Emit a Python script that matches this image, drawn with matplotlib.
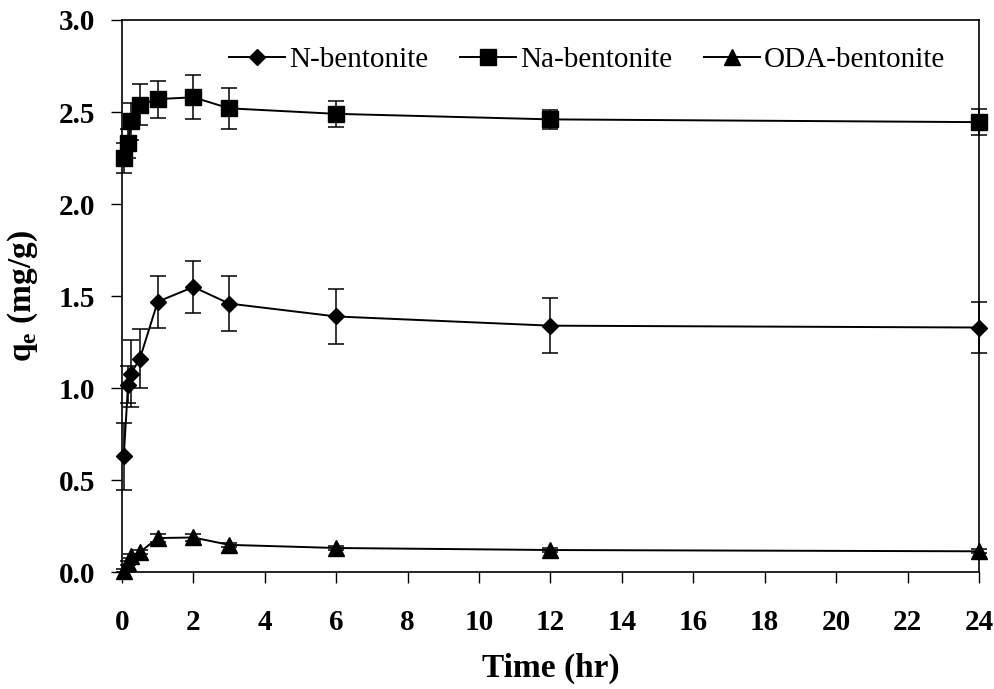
import numpy as np
import matplotlib.pyplot as plt

plt.rcParams['font.family'] = 'Liberation Serif'

# sampling times (hr)
t = [0.05, 0.17, 0.25, 0.5, 1, 2, 3, 6, 12, 24]

n_bent = [0.63, 1.02, 1.08, 1.16, 1.47, 1.55, 1.46, 1.39, 1.34, 1.33]
n_err = [0.18, 0.10, 0.18, 0.16, 0.14, 0.14, 0.15, 0.15, 0.15, 0.14]

na_bent = [2.25, 2.33, 2.45, 2.54, 2.57, 2.58, 2.52, 2.49, 2.46, 2.445]
na_err = [0.08, 0.08, 0.10, 0.11, 0.10, 0.12, 0.11, 0.07, 0.05, 0.07]

oda_bent = [0.01, 0.05, 0.09, 0.11, 0.187, 0.19, 0.15, 0.133, 0.122, 0.115]
oda_err = [0.01, 0.01, 0.01, 0.01, 0.02, 0.02, 0.01, 0.01, 0.01, 0.01]

fig = plt.figure(figsize=(9.95, 6.89), dpi=100)
ax = fig.add_axes([0.1226, 0.1691, 0.8613, 0.802])

kw = dict(color='black', ecolor='black', elinewidth=1.1, capsize=6,
          capthick=1.1, linewidth=1.4, clip_on=False)
ax.errorbar(t, n_bent, yerr=n_err, marker='D', markersize=8,
            label='N-bentonite', **kw)
ax.errorbar(t, na_bent, yerr=na_err, marker='s', markersize=12,
            label='Na-bentonite', **kw)
ax.errorbar(t, oda_bent, yerr=oda_err, marker='^', markersize=11,
            label='ODA-bentonite', **kw)

ax.set_xlim(0, 24)
ax.set_ylim(0, 3.0)
ax.set_xticks(np.arange(0, 25, 2))
ax.set_yticks(np.arange(0, 3.01, 0.5))
ax.set_yticklabels([f'{v:.1f}' for v in np.arange(0, 3.01, 0.5)])
ax.tick_params(direction='out', length=8, width=1, labelsize=21)
ax.tick_params(axis='x', pad=18)
ax.tick_params(axis='y', pad=11)
for lab in ax.get_xticklabels() + ax.get_yticklabels():
    lab.set_fontweight('bold')
for s in ax.spines.values():
    s.set_linewidth(1.2)

ax.set_xlabel('Time (hr)', fontsize=24, fontweight='bold', labelpad=12)
ax.set_ylabel(r'q$_\mathregular{e}$ (mg/g)', fontsize=24, fontweight='bold',
              labelpad=14)

handles, labels = ax.get_legend_handles_labels()
handles = [h[0] for h in handles]
ax.legend(handles, labels, loc='center', bbox_to_anchor=(0.543, 0.927),
          ncol=3, frameon=False, fontsize=21, handlelength=1.9,
          columnspacing=1.1, handletextpad=0.15)

plt.savefig('out.png', dpi=100)
